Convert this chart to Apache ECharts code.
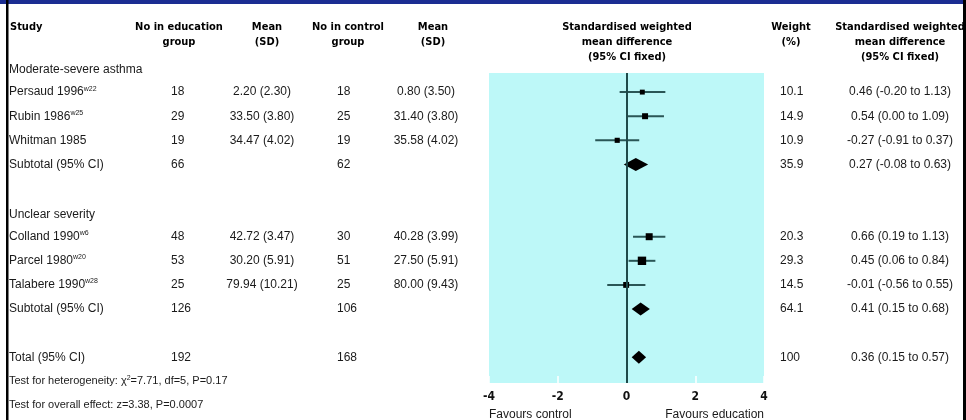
<!DOCTYPE html>
<html>
<head>
<meta charset="utf-8">
<script src="https://cdn.jsdelivr.net/npm/echarts@6/dist/echarts.min.js"></script>
<style>
  html, body { margin: 0; padding: 0; background: #fff; }
  #chart { width: 966px; height: 420px; }
</style>
</head>
<body>
<div id="chart"></div>
<script>
// study rows
var studies = ['Persaud 1996', 'Rubin 1986', 'Whitman 1985', 'Colland 1990', 'Parcel 1980', 'Talabere 1990'];
var refs = ['w22', 'w25', '', 'w6', 'w20', 'w28'];
var studyRows = [1, 2, 3, 7, 8, 9];
var nEdu = [18, 29, 19, 48, 53, 25];
var meanEdu = ['2.20 (2.30)', '33.50 (3.80)', '34.47 (4.02)', '42.72 (3.47)', '30.20 (5.91)', '79.94 (10.21)'];
var nCtl = [18, 25, 19, 30, 51, 25];
var meanCtl = ['0.80 (3.50)', '31.40 (3.80)', '35.58 (4.02)', '40.28 (3.99)', '27.50 (5.91)', '80.00 (9.43)'];
var smd = [0.46, 0.54, -0.27, 0.66, 0.45, -0.01];
var ciLow = [-0.20, 0.00, -0.91, 0.19, 0.06, -0.56];
var ciHigh = [1.13, 1.09, 0.37, 1.13, 0.84, 0.55];
var weight = [10.1, 14.9, 10.9, 20.3, 29.3, 14.5];

// subtotals and total
var pooledLabels = ['Subtotal (95% CI)', 'Subtotal (95% CI)', 'Total (95% CI)'];
var pooledRows = [4, 10, 12];
var pooledNEdu = [66, 126, 192];
var pooledNCtl = [62, 106, 168];
var pooledSmd = [0.27, 0.41, 0.36];
var pooledLow = [-0.08, 0.15, 0.15];
var pooledHigh = [0.63, 0.68, 0.57];
var pooledWeight = [35.9, 64.1, 100];

var groupLabels = ['Moderate-severe asthma', 'Unclear severity'];
var groupRows = [0, 6];
var testLabels = ['{t|Test for heterogeneity: \u03c7}{s|2}{t|=7.71, df=5, P=0.17}', '{t|Test for overall effect: z=3.38, P=0.0007}'];
var testRows = [13, 14];
var xTicks = [-4, -2, 0, 2, 4];
var favourLabels = ['Favours control', 'Favours education'];

var BODY_FONT = '"Liberation Sans", Arial, sans-serif';
var HEAD_FONT = '"DejaVu Sans Condensed", "Liberation Sans Narrow", sans-serif';

var chart = echarts.init(document.getElementById('chart'));

function fmt(v) { return v.toFixed(2); }

var ciData = studyRows.map(function (r, i) { return [r, ciLow[i], ciHigh[i], smd[i], weight[i]]; });
var poolData = pooledRows.map(function (r, i) { return [r, pooledLow[i], pooledHigh[i], pooledSmd[i]]; });

function ciItem(params, api) {
  var row = api.value(0);
  var a = api.coord([api.value(1), row]);
  var b = api.coord([api.value(2), row]);
  var m = api.coord([api.value(3), row]);
  var s = Math.sqrt(api.value(4)) * 1.55;
  return {
    type: 'group',
    children: [
      { type: 'line', shape: { x1: a[0], y1: a[1], x2: b[0], y2: b[1] }, style: { stroke: '#2a5656', lineWidth: 2 } },
      { type: 'rect', shape: { x: m[0] - s / 2, y: m[1] - s / 2, width: s, height: s }, style: { fill: '#000' } }
    ]
  };
}

function diamondItem(params, api) {
  var row = api.value(0);
  var a = api.coord([api.value(1), row]);
  var b = api.coord([api.value(2), row]);
  var m = api.coord([api.value(3), row]);
  var h = 6.5;
  return {
    type: 'polygon',
    shape: { points: [[a[0], a[1]], [m[0], m[1] - h], [b[0], b[1]], [m[0], m[1] + h]] },
    style: { fill: '#000' }
  };
}

chart.setOption({
  animation: false,
  grid: { left: 489, top: 73, width: 275, height: 310, show: true, backgroundColor: '#bdf8f8', borderWidth: 0 },
  xAxis: {
    type: 'value', min: xTicks[0], max: xTicks[xTicks.length - 1], interval: 2,
    axisLine: { show: false },
    axisTick: { show: true, inside: true, length: 7, lineStyle: { color: '#fff', width: 1.5 } },
    splitLine: { show: false },
    axisLabel: { color: '#111', fontSize: 12, fontWeight: 'bold', fontFamily: HEAD_FONT, margin: 8 }
  },
  yAxis: { type: 'value', inverse: true, min: 0.207, max: 13.07, show: false },
  series: [
    {
      type: 'custom', renderItem: ciItem, data: ciData, z: 3,
      markLine: {
        silent: true, symbol: 'none', label: { show: false },
        lineStyle: { color: '#1f4a4a', width: 2, type: 'solid' },
        data: [{ xAxis: 0 }]
      }
    },
    { type: 'custom', renderItem: diamondItem, data: poolData, z: 4 }
  ]
});

// table text, rows placed through the y axis of the plot
function rowY(r) { return chart.convertToPixel({ yAxisIndex: 0 }, r); }
function colX(v) { return chart.convertToPixel({ xAxisIndex: 0 }, v); }

var els = [];
function txt(x, y, text, align, extra) {
  var style = {
    text: text, x: x, y: y, align: align || 'left', verticalAlign: 'middle',
    fill: '#1a1a1a', font: '12px ' + BODY_FONT
  };
  for (var k in extra) style[k] = extra[k];
  els.push({ type: 'text', silent: true, style: style });
}
var supRich = {
  t: { fontSize: 12, fontFamily: BODY_FONT, lineHeight: 14 },
  s: { fontSize: 7, fontFamily: BODY_FONT, lineHeight: 8, verticalAlign: 'top' }
};
// footer lines are set a bit tighter in the original
var footRich = {
  t: { fontSize: 11, fontFamily: BODY_FONT, lineHeight: 13 },
  s: { fontSize: 7, fontFamily: BODY_FONT, lineHeight: 7, verticalAlign: 'top' }
};

// frame
els.push({ type: 'rect', shape: { x: 0, y: 0, width: 966, height: 4 }, style: { fill: '#1b2d92' } });
els.push({ type: 'rect', shape: { x: 6, y: 0, width: 2.5, height: 420 }, style: { fill: '#000' } });
els.push({ type: 'rect', shape: { x: 963, y: 0, width: 3, height: 420 }, style: { fill: '#000' } });

// headers
var headFont = 'bold 11px ' + HEAD_FONT;
var heads = [
  [10, 'Study', 'left'],
  [179, 'No in education\ngroup', 'center'],
  [267, 'Mean\n(SD)', 'center'],
  [348, 'No in control\ngroup', 'center'],
  [433, 'Mean\n(SD)', 'center'],
  [627, 'Standardised weighted\nmean difference\n(95% CI fixed)', 'center'],
  [791, 'Weight\n(%)', 'center'],
  [900, 'Standardised weighted\nmean difference\n(95% CI fixed)', 'center']
];
heads.forEach(function (h) {
  els.push({ type: 'text', silent: true, style: {
    text: h[1], x: h[0], y: 20, align: h[2], verticalAlign: 'top',
    font: headFont, lineHeight: 15, fill: '#000'
  } });
});

groupLabels.forEach(function (g, i) { txt(9, rowY(groupRows[i]) + 2, g); });

studies.forEach(function (s, i) {
  var y = rowY(studyRows[i]);
  var label = refs[i] ? '{t|' + s + '}{s|' + refs[i] + '}' : '{t|' + s + '}';
  txt(9, y, label, 'left', { rich: supRich });
  txt(171, y, String(nEdu[i]));
  txt(262, y, meanEdu[i], 'center');
  txt(337, y, String(nCtl[i]));
  txt(426, y, meanCtl[i], 'center');
  txt(780, y, weight[i].toFixed(1));
  txt(900, y, fmt(smd[i]) + ' (' + fmt(ciLow[i]) + ' to ' + fmt(ciHigh[i]) + ')', 'center');
});

pooledLabels.forEach(function (p, i) {
  var y = rowY(pooledRows[i]);
  txt(9, y, p);
  txt(171, y, String(pooledNEdu[i]));
  txt(337, y, String(pooledNCtl[i]));
  txt(780, y, String(pooledWeight[i]));
  txt(900, y, fmt(pooledSmd[i]) + ' (' + fmt(pooledLow[i]) + ' to ' + fmt(pooledHigh[i]) + ')', 'center');
});

testLabels.forEach(function (t, i) {
  txt(9, rowY(testRows[i]), t, 'left', { rich: footRich });
});

txt(colX(xTicks[0]), 415, favourLabels[0], 'left');
txt(colX(xTicks[xTicks.length - 1]), 415, favourLabels[1], 'right');

chart.setOption({ graphic: { elements: els } });
</script>
</body>
</html>
